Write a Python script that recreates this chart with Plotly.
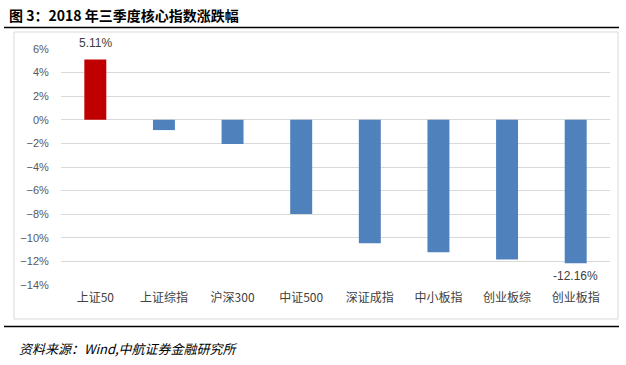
import plotly.graph_objects as go

categories = ["上证50", "上证综指", "沪深300", "中证500", "深证成指", "中小板指", "创业板综", "创业板指"]
values = [5.11, -0.87, -2.05, -7.98, -10.46, -11.23, -11.84, -12.16]
labels = ["5.11%", "", "", "", "", "", "", "-12.16%"]
colors = ["#C00000"] + ["#4F81BD"] * 7
tick_vals = [6, 4, 2, 0, -2, -4, -6, -8, -10, -12, -14]
tick_text = ["6%", "4%", "2%", "0%", "−2%", "−4%", "−6%", "−8%", "−10%", "−12%", "−14%"]

W, H = 626, 365
L, R, T, B = 61, 16, 49, 80
pw, ph = W - L - R, H - T - B

def px(x):
    return (x - L) / pw

def py(y):
    return (H - B - y) / ph

fig = go.Figure()
fig.add_trace(go.Bar(
    x=categories, y=values, marker_color=colors, width=0.32,
    marker_line_width=0, hoverinfo="skip"
))

annotations = []
for c, v, t in zip(categories, values, labels):
    if t:
        annotations.append(dict(
            x=c, y=v, xref="x", yref="y", text=t, showarrow=False,
            yanchor="bottom" if v > 0 else "top",
            yshift=8 if v > 0 else -4,
            font=dict(family="Liberation Sans, Arial", size=12, color="#404040")
        ))

annotations.append(dict(
    x=px(7), y=py(15), xref="paper", yref="paper", xanchor="left", yanchor="middle",
    text="<b>图 3：2018 年三季度核心指数涨跌幅</b>", showarrow=False,
    font=dict(family="Noto Sans CJK SC", size=14, color="#000000")
))
annotations.append(dict(
    x=px(17), y=py(348), xref="paper", yref="paper", xanchor="left", yanchor="middle",
    text="<i>资料来源：Wind,中航证券金融研究所</i>", showarrow=False,
    font=dict(family="Noto Sans CJK SC", size=13, color="#000000")
))

shapes = [
    dict(type="rect", xref="paper", yref="paper", x0=px(14), x1=px(618), y0=py(319), y1=py(32),
         line=dict(color="#D9D9D9", width=1), layer="below"),
    dict(type="line", xref="paper", yref="paper", x0=px(4), x1=px(619), y0=py(27.5), y1=py(27.5),
         line=dict(color="#000000", width=1.5)),
    dict(type="line", xref="paper", yref="paper", x0=px(4), x1=px(619), y0=py(326.5), y1=py(326.5),
         line=dict(color="#000000", width=1.5)),
]

fig.update_layout(
    width=W, height=H, autosize=False,
    margin=dict(l=L, r=R, t=T, b=B, pad=0),
    paper_bgcolor="white", plot_bgcolor="white",
    showlegend=False,
    annotations=annotations, shapes=shapes,
    xaxis=dict(
        showgrid=False, showline=False, zeroline=False, ticks="",
        tickfont=dict(family="Noto Sans CJK SC", size=12, color="#404040"),
        ticklabelstandoff=4,
    ),
    yaxis=dict(
        range=[-14, 6], tickmode="array", tickvals=tick_vals, ticktext=tick_text,
        showgrid=True, gridcolor="#D9D9D9", gridwidth=1,
        zeroline=False, showline=False,
        ticks="outside", ticklen=9, tickcolor="rgba(0,0,0,0)",
        tickfont=dict(family="Liberation Sans, Arial", size=11, color="#595959"),
    ),
)

fig.write_html(
    "out.html",
    config={"displayModeBar": False},
    post_script="document.body.style.margin='0';document.body.style.padding='0';",
)
